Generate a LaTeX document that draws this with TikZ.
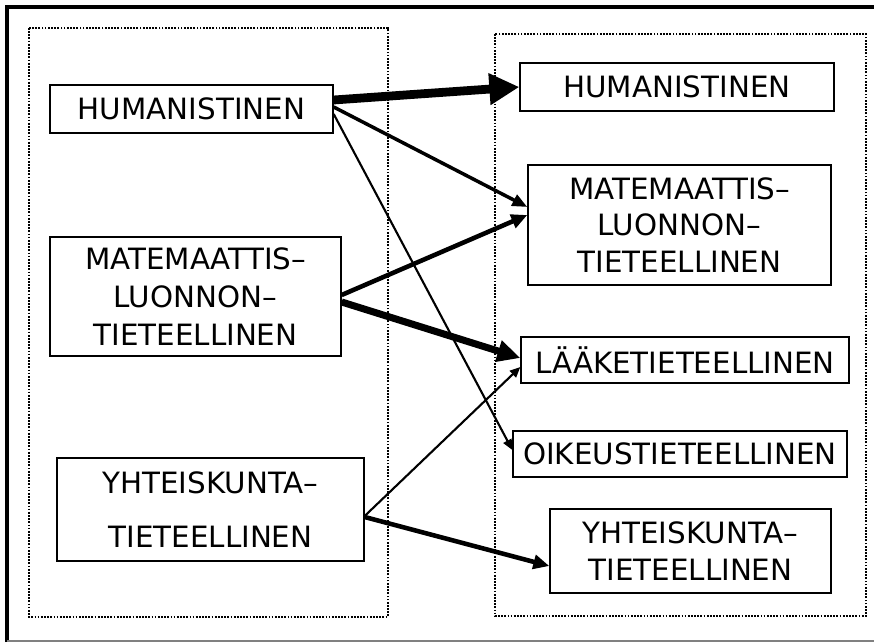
\documentclass[tikz,border=0pt]{standalone}
\usepackage{fontspec}
\setmainfont{DejaVu Sans}
\usepackage{xcolor}
\definecolor{framegray}{HTML}{808080}
\usetikzlibrary{arrows.meta,calc}

\tikzset{
  field/.style={draw, line width=0.8pt, align=center, inner sep=0pt,
    font=\fontsize{16.7}{20.7}\selectfont},
  groupbox/.style={line width=1.5pt, dash pattern=on 1pt off 0.8pt},
  linkthin/.style={line width=1.2pt, -{Triangle[length=0.21cm,width=0.18cm]}},
  linkmid/.style={line width=2pt, -{Triangle[length=0.3cm,width=0.24cm]}},
  linkbold/.style={line width=2.6pt, -{Triangle[length=0.32cm,width=0.28cm]}},
  linkheavy/.style={line width=4pt, -{Triangle[length=0.46cm,width=0.42cm]}}
}

\begin{document}
\begin{tikzpicture}[x=0.02cm, y=-0.02cm]
  \useasboundingbox (0,0) rectangle (874,644);

  % frame
  \draw[line width=2.3pt] (7,642) -- (7,7) -- (874,7);
  \draw[framegray, line width=0.9pt] (7,641) -- (874,641);

  % groups
  \draw[groupbox] (29,28) rectangle (388,617);
  \draw[groupbox] (495,34) rectangle (866,616);

  % left column
  \node[field, minimum width=5.66cm, minimum height=0.96cm] (hum1) at (191.5,109) {HUMANISTINEN};
  \node[field, minimum width=5.82cm, minimum height=2.38cm] (mat1) at (195.5,296.5)
    {MATEMAATTIS–\\[1pt]LUONNON–\\[1pt]TIETEELLINEN};
  \node[field, minimum width=6.14cm, minimum height=2.06cm] (yht1) at (210.5,509.5)
    {YHTEISKUNTA–\\[10pt]TIETEELLINEN};

  % right column
  \node[field, minimum width=6.28cm, minimum height=0.96cm] (hum2) at (677,87) {HUMANISTINEN};
  \node[field, minimum width=6.06cm, minimum height=2.40cm] (mat2) at (679.5,225)
    {MATEMAATTIS–\\LUONNON–\\TIETEELLINEN};
  \node[field, minimum width=6.56cm, minimum height=0.92cm] (laa2) at (685,360) {LÄÄKETIETEELLINEN};
  \node[field, minimum width=6.68cm, minimum height=0.92cm] (oik2) at (680,454) {OIKEUSTIETEELLINEN};
  \node[field, minimum width=5.62cm, minimum height=1.68cm] (yht2) at (690.5,551)
    {YHTEISKUNTA–\\TIETEELLINEN};

  % links
  \draw[linkheavy, line width=5pt, -{Triangle[length=0.6cm,width=0.6cm]}]
    ($(hum1.east)+(0,-9)$) -- (hum2.west);
  \draw[linkmid] ($(hum1.east)+(0,-2)$) -- ($(mat2.west)+(0,-18)$);
  \draw[linkthin] ($(hum1.east)+(0,5)$) -- ($(oik2.west)+(0,-4)$);
  \draw[linkbold] ($(mat1.east)+(0,-1.5)$) -- ($(mat2.west)+(0,-10)$);
  \draw[linkheavy] ($(mat1.east)+(0,5.5)$) -- ($(laa2.west)+(0,-2)$);
  \draw[linkthin] ($(yht1.east)+(0,6.5)$) -- ($(laa2.west)+(0,7)$);
  \draw[linkbold] ($(yht1.east)+(0,7.5)$) -- ($(yht2.west)+(0,15)$);

\end{tikzpicture}
\end{document}
